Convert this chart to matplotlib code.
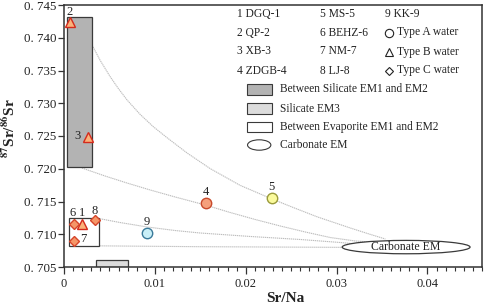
import numpy as np
import matplotlib
matplotlib.use("Agg")
import matplotlib.pyplot as plt
from matplotlib.patches import Rectangle, Ellipse
from matplotlib.ticker import MultipleLocator, FuncFormatter

plt.rcParams["font.family"] = ["Liberation Serif", "DejaVu Serif"]
plt.rcParams["mathtext.fontset"] = "stix"

# samples: Sr/Na, 87Sr/86Sr
sample_ids = ["1", "2", "3", "4", "5", "6", "7", "8", "9"]
sample_names = ["DGQ-1", "QP-2", "XB-3", "ZDGB-4", "MS-5", "BEHZ-6", "NM-7", "LJ-8", "KK-9"]
sr_na = [0.0020, 0.00066, 0.00265, 0.01558, 0.02287, 0.0011, 0.00114, 0.0034, 0.00914]
sr_ratio = [0.7116, 0.7424, 0.7248, 0.7147, 0.7155, 0.7115, 0.7090, 0.7122, 0.7102]
water_type = ["B", "B", "B", "A", "A", "C", "C", "C", "A"]

# end-member fields
silicate_12 = (0.0003, 0.7202, 0.00306, 0.7431)    # x0, y0, x1, y1
silicate_3 = (0.0035, 0.705, 0.0070, 0.7060)
evaporite_12 = (0.00055, 0.7082, 0.0038, 0.7125)
carbonate_em = (0.03765, 0.70804, 0.01407, 0.00204)  # cx, cy, w, h

# mixing curves
curve_a_x = [0.00309, 0.00397, 0.00507, 0.00595, 0.00694, 0.00837, 0.00981, 0.01135, 0.01355,
             0.01609, 0.01939, 0.02281, 0.02534, 0.02788, 0.03152, 0.03350, 0.03537]
curve_a_y = [0.73889, 0.73657, 0.73408, 0.73231, 0.73050, 0.72831, 0.72644, 0.72473, 0.72240,
             0.72002, 0.71746, 0.71543, 0.71402, 0.71265, 0.71095, 0.71007, 0.70927]
curve_b_x = [0.00198, 0.00452, 0.00694, 0.00948, 0.01223, 0.01554, 0.01829, 0.02105, 0.02380,
             0.02656, 0.02931, 0.03207, 0.03449]
curve_b_y = [0.72011, 0.71889, 0.71782, 0.71676, 0.71569, 0.71447, 0.71332, 0.71225, 0.71126,
             0.71034, 0.70950, 0.70897, 0.70874]
curve_c_x = [0.00353, 0.00617, 0.00915, 0.01223, 0.01499, 0.02050, 0.02601, 0.03041, 0.03394]
curve_c_y = [0.71248, 0.71179, 0.71111, 0.71057, 0.71019, 0.70966, 0.70920, 0.70874, 0.70828]
curve_d_x = [0.00376, 0.01503, 0.03061]
curve_d_y = [0.70823, 0.70810, 0.70800]

W, H = 484, 304
L, R, T, B = 64, 482, 5, 267

fig = plt.figure(figsize=(W / 100, H / 100), dpi=100)
ax = fig.add_axes([L / W, 1 - B / H, (R - L) / W, (B - T) / H])
ax.set_xlim(0, 0.046)
ax.set_ylim(0.705, 0.745)


def axc(px, py):
    # figure pixel -> axes fraction
    return (px - L) / (R - L), (B - py) / (B - T)


# fields
edge = "#3a3a3a"
for (x0, y0, x1, y1), fc in [(silicate_12, "#b3b3b3"), (silicate_3, "#dcdcdc"), (evaporite_12, "white")]:
    ax.add_patch(Rectangle((x0, y0), x1 - x0, y1 - y0, fc=fc, ec=edge, lw=0.9, zorder=2))
cx, cy, ew, eh = carbonate_em
ax.add_patch(Ellipse((cx, cy), ew, eh, fc="white", ec=edge, lw=0.9, zorder=2))
ax.text(cx, cy, "Carbonate EM", ha="center", va="center", fontsize=8.5, color="#222", zorder=3)

# curves
for xs, ys in [(curve_a_x, curve_a_y), (curve_b_x, curve_b_y), (curve_c_x, curve_c_y), (curve_d_x, curve_d_y)]:
    ax.plot(xs, ys, color="#bdbdbd", lw=0.8, ls=(0, (1.2, 0.6)), zorder=1)

# samples
markers = {"A": "o", "B": "^", "C": "D"}
styles = {
    "1": ("#fbb27a", "#d42a1c"), "2": ("#fbb27a", "#d42a1c"), "3": ("#fbb27a", "#d42a1c"),
    "4": ("#f5a07c", "#c84a2c"), "5": ("#fafa9c", "#9a9a3a"), "9": ("#c9eff7", "#3a7a9a"),
    "6": ("#f59668", "#d6442a"), "7": ("#f59668", "#d6442a"), "8": ("#f59668", "#d6442a"),
}
label_offsets = {
    "1": (0, 11), "2": (0, 10), "3": (-11, 1), "4": (0, 11), "5": (0, 11),
    "6": (-1, 11), "7": (9, 2), "8": (0, 9), "9": (0, 11),
}
for sid, x, y, wt in zip(sample_ids, sr_na, sr_ratio, water_type):
    fc, ec = styles[sid]
    ms = 7.5 if wt != "C" else 5.5
    ax.plot(x, y, marker=markers[wt], ms=ms, mfc=fc, mec=ec, mew=1.0, ls="none", zorder=4)
    ax.annotate(sid, (x, y), xytext=label_offsets[sid], textcoords="offset pixels",
                ha="center", va="center", fontsize=9, color="#222", zorder=5)

# legend, drawn by hand
fs = 8.3
rows = [14, 32.5, 51.5, 70.5]
for i in range(4):
    ax.text(*axc(236.7, rows[i]), f"{sample_ids[i]} {sample_names[i]}", transform=ax.transAxes,
            ha="left", va="center", fontsize=fs, color="#222")
    ax.text(*axc(320, rows[i]), f"{sample_ids[i + 4]} {sample_names[i + 4]}", transform=ax.transAxes,
            ha="left", va="center", fontsize=fs, color="#222")
ax.text(*axc(385, rows[0]), f"{sample_ids[8]} {sample_names[8]}", transform=ax.transAxes,
        ha="left", va="center", fontsize=fs, color="#222")
for r, (mk, lab) in zip(rows[1:], [("o", "Type A water"), ("^", "Type B water"), ("D", "Type C water")]):
    ax.plot(*axc(389, r), marker=mk, ms=6 if mk != "D" else 4.5, mfc="white", mec="#222", mew=0.8,
            transform=ax.transAxes, clip_on=False, zorder=5)
    ax.text(*axc(397, r), lab, transform=ax.transAxes, ha="left", va="center", fontsize=fs, color="#222")

patch_rows = [89.5, 108.5, 127, 145]
patch_labels = ["Between Silicate EM1 and EM2", "Silicate EM3", "Between Evaporite EM1 and EM2", "Carbonate EM"]
patch_fc = ["#b3b3b3", "#dcdcdc", "white"]
for i, (r, lab) in enumerate(zip(patch_rows, patch_labels)):
    x0, y0 = axc(246.7, r + 5.2)
    x1, y1 = axc(271.7, r - 5.2)
    if i < 3:
        ax.add_patch(Rectangle((x0, y0), x1 - x0, y1 - y0, transform=ax.transAxes,
                               fc=patch_fc[i], ec=edge, lw=0.8, zorder=5))
    else:
        ax.add_patch(Ellipse(((x0 + x1) / 2, (y0 + y1) / 2), x1 - x0 - 0.004, y1 - y0,
                             transform=ax.transAxes, fc="white", ec=edge, lw=0.8, zorder=5))
    ax.text(*axc(280, r), lab, transform=ax.transAxes, ha="left", va="center", fontsize=fs, color="#222")

# axes styling
for s in ax.spines.values():
    s.set_color("#333")
    s.set_linewidth(1.1)
ax.xaxis.set_major_locator(MultipleLocator(0.01))
ax.xaxis.set_minor_locator(MultipleLocator(0.001))
ax.yaxis.set_major_locator(MultipleLocator(0.005))
ax.xaxis.set_major_formatter(FuncFormatter(lambda v, p: "0" if abs(v) < 1e-9 else f"{v:.2f}"))
ax.yaxis.set_major_formatter(FuncFormatter(lambda v, p: f"{v:.3f}".replace(".", ". ")))
ax.tick_params(axis="x", which="major", direction="out", length=5, width=0.9, color="#333",
               labelsize=9, labelcolor="#222", pad=3)
ax.tick_params(axis="x", which="minor", direction="out", length=3, width=0.8, color="#333")
ax.tick_params(axis="y", which="major", direction="out", length=4, width=0.9, color="#333",
               labelsize=9.3, labelcolor="#222", pad=1.5)

ax.set_xlabel("Sr/Na", fontsize=11, fontweight="bold", color="#222")
ax.xaxis.set_label_coords(0.53, -0.095)
ax.set_ylabel(r"$^{\mathbf{87}}$Sr/$^{\mathbf{86}}$Sr", fontsize=11, fontweight="bold", color="#222")
ax.yaxis.set_label_coords(-0.11, 0.53)

fig.savefig("out.png", dpi=100)
